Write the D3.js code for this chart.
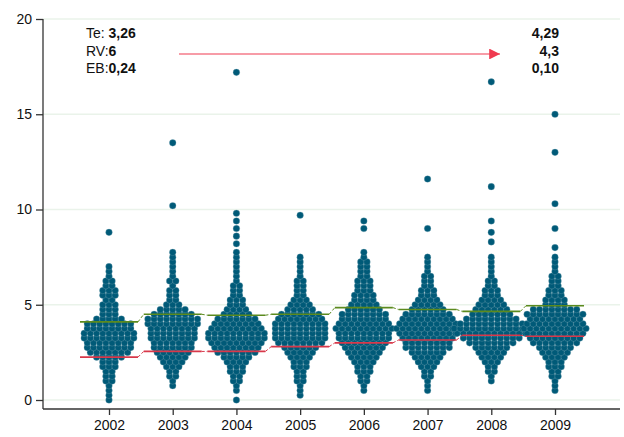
<!DOCTYPE html>
<html>
<head>
<meta charset="utf-8">
<script src="https://cdn.jsdelivr.net/npm/d3@7"></script>
<style>
  body { margin: 0; background: #fff; }
  svg { font-family: "Liberation Sans", Arial, sans-serif; }
</style>
</head>
<body>
<svg id="chart" width="624" height="437"></svg>
<script>
// years on the x axis
const years = [2002, 2003, 2004, 2005, 2006, 2007, 2008, 2009];
// dot counts per 0.25-wide bin, starting at 0
const binStep = 0.25;
const counts = {
  2002: [1,1,1,1,2,2,2,3,3,5,7,8,8,9,9,8,8,5,3,3,3,2,3,3,2,2,1,1,1,0,0,0],
  2003: [0,0,0,1,1,2,2,3,4,5,6,7,7,8,8,8,9,9,7,5,3,2,2,2,1,2,1,1,1,1,1,1],
  2004: [1,0,1,1,2,2,3,3,4,5,7,8,9,10,10,9,8,7,5,4,3,3,2,2,2,1,1,1,1,1,1,1],
  2005: [0,1,1,1,2,2,2,3,3,4,5,6,8,9,9,9,9,8,7,5,4,3,2,2,2,2,1,1,1,1,1,0],
  2006: [0,0,1,1,2,2,3,3,4,5,6,7,8,9,9,10,9,8,8,6,5,4,4,3,3,3,2,2,2,2,1,1],
  2007: [0,0,1,1,1,2,2,3,4,5,6,8,8,9,10,11,10,9,8,6,5,4,3,3,2,2,2,1,1,1,1,0],
  2008: [0,0,0,0,1,1,2,2,3,4,5,6,8,10,12,13,11,9,7,6,5,4,3,3,2,2,1,1,1,1,1,0],
  2009: [0,0,1,1,1,2,2,3,3,4,5,6,8,9,10,11,10,9,10,8,4,4,3,3,2,2,2,1,1,1,1,0]
};
// single high values
const outliers = {
  2002: [8.8],
  2003: [10.2, 13.5],
  2004: [8.2, 8.6, 9.0, 9.4, 9.8, 17.2],
  2005: [9.7],
  2006: [9.0, 9.4],
  2007: [9.0, 11.6],
  2008: [8.3, 8.8, 9.4, 11.2, 16.7],
  2009: [8.0, 9.0, 10.3, 13.0, 15.0]
};
// upper (green) and lower (red) reference lines
const upper = [4.1, 4.5, 4.45, 4.5, 4.85, 4.75, 4.65, 4.95];
const lower = [2.25, 2.55, 2.55, 2.8, 3.0, 3.15, 3.4, 3.35];
const yTicks = [0, 5, 10, 15, 20];
const leftLabels = [["Te: ", "3,26"], ["RV:", "6"], ["EB:", "0,24"]];
const rightLabels = ["4,29", "4,3", "0,10"];

const svg = d3.select("#chart");
const x = d3.scalePoint().domain(years).range([109, 555]);
const y = d3.scaleLinear().domain([0, 20]).range([400, 19]);
const dotColor = "#005a78";
const dotW = 6.2;

// grid
svg.append("g").selectAll("line").data(yTicks).join("line")
  .attr("x1", 43).attr("x2", 620)
  .attr("y1", d => y(d)).attr("y2", d => y(d))
  .attr("stroke", "#eaf3ea").attr("stroke-width", 1.5);

// dots
const dots = [];
years.forEach(yr => {
  counts[yr].forEach((n, i) => {
    for (let k = 0; k < n; k++) {
      dots.push({ yr, v: i * binStep, off: (k - (n - 1) / 2) * dotW });
    }
  });
  outliers[yr].forEach(v => dots.push({ yr, v, off: 0 }));
});
svg.append("g").selectAll("circle").data(dots).join("circle")
  .attr("cx", d => x(d.yr) + d.off)
  .attr("cy", d => y(d.v))
  .attr("r", 3.3)
  .attr("fill", dotColor)
  .attr("stroke", "#7fa9b8").attr("stroke-width", 0.3);

// reference lines
function refLines(vals, color) {
  const g = svg.append("g");
  const half = 29;
  g.selectAll("line.seg").data(years).join("line")
    .attr("x1", d => x(d) - half).attr("x2", d => x(d) + half)
    .attr("y1", (d, i) => y(vals[i])).attr("y2", (d, i) => y(vals[i]))
    .attr("stroke", color).attr("stroke-width", 1.6);
  g.selectAll("line.con").data(years.slice(0, -1)).join("line")
    .attr("x1", d => x(d) + half).attr("x2", (d, i) => x(years[i + 1]) - half)
    .attr("y1", (d, i) => y(vals[i])).attr("y2", (d, i) => y(vals[i + 1]))
    .attr("stroke", color).attr("stroke-width", 1).attr("stroke-dasharray", "3,2");
}
refLines(upper, "#5b8a1e");
refLines(lower, "#d8384a");

// axes
const yAxis = svg.append("g").attr("transform", "translate(43,0)")
  .call(d3.axisLeft(y).tickValues(yTicks).tickSize(7).tickPadding(4));
yAxis.select(".domain").attr("d", `M0,${y(20)}V409`);
const xAxis = svg.append("g").attr("transform", "translate(0,409)")
  .call(d3.axisBottom(x).tickSize(6).tickPadding(5).tickFormat(d3.format("d")));
xAxis.select(".domain").attr("d", "M43,0H620");
svg.selectAll(".tick text").attr("font-size", 14).attr("fill", "#111");
svg.selectAll(".domain, .tick line").attr("stroke", "#333").attr("stroke-width", 1.3);

// annotations
const ann = svg.append("g").attr("font-size", 14).attr("fill", "#111");
leftLabels.forEach((l, i) => {
  const t = ann.append("text").attr("x", 86).attr("y", 38 + i * 17.5);
  t.append("tspan").text(l[0]);
  t.append("tspan").attr("font-weight", "bold").text(l[1]);
});
rightLabels.forEach((l, i) => {
  ann.append("text").attr("x", 559).attr("y", 38 + i * 17.5)
    .attr("text-anchor", "end").attr("font-weight", "bold").text(l);
});
svg.append("defs").append("marker").attr("id", "ah")
  .attr("viewBox", "0 0 10 10").attr("refX", 10).attr("refY", 5)
  .attr("markerWidth", 9).attr("markerHeight", 9).attr("orient", "auto")
  .append("path").attr("d", "M0,0L10,5L0,10z").attr("fill", "#f03a50");
svg.append("line").attr("x1", 179).attr("x2", 500).attr("y1", 54).attr("y2", 54)
  .attr("stroke", "#f03a50").attr("stroke-width", 1.2).attr("marker-end", "url(#ah)");
</script>
</body>
</html>
